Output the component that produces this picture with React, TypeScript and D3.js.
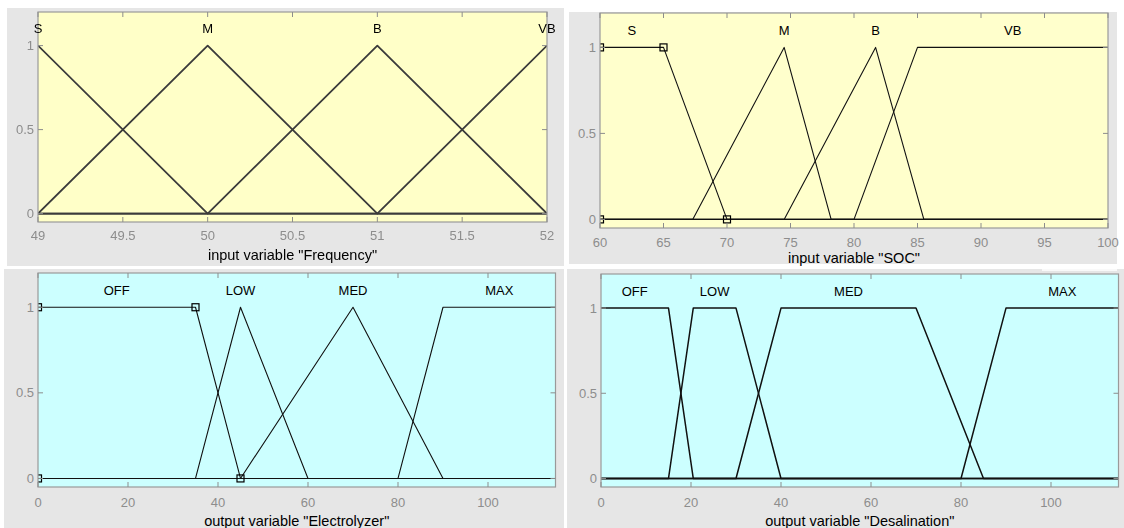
import React from "react";
import * as d3 from "d3";

// ---- Fuzzy variable definitions ----
const freqRange = [49, 52];
const freqTicks = [49, 49.5, 50, 50.5, 51, 51.5, 52];
const freqNames = ["S", "M", "B", "VB"];
const freqTypes = ["trimf", "trimf", "trimf", "trimf"];
const freqParams = [
  [48, 49, 50],
  [49, 50, 51],
  [50, 51, 52],
  [51, 52, 53],
];

const socRange = [60, 100];
const socTicks = [60, 65, 70, 75, 80, 85, 90, 95, 100];
const socNames = ["S", "M", "B", "VB"];
const socTypes = ["trapmf", "trimf", "trimf", "trapmf"];
const socParams = [
  [60, 60, 65, 70],
  [67.3, 74.5, 78.2],
  [74.5, 81.7, 85.5],
  [80, 85, 100, 100],
];

const elecRange = [0, 115];
const elecTicks = [0, 20, 40, 60, 80, 100];
const elecNames = ["OFF", "LOW", "MED", "MAX"];
const elecTypes = ["trapmf", "trimf", "trimf", "trapmf"];
const elecParams = [
  [0, 0, 35, 45],
  [35, 45, 60],
  [45, 70, 90],
  [80, 90, 115, 115],
];

const desalRange = [0, 115];
const desalTicks = [0, 20, 40, 60, 80, 100];
const desalNames = ["OFF", "LOW", "MED", "MAX"];
const desalTypes = ["trapmf", "trapmf", "trapmf", "trapmf"];
const desalParams = [
  [0, 0, 15, 20.5],
  [15, 20.5, 30, 40],
  [30, 40, 70, 85],
  [80, 90, 115, 115],
];

const degreeTicks = [0, 0.5, 1];
const degreeDomain = [-0.05, 1.2];

const FONT = "'Liberation Sans', Arial, Helvetica, sans-serif";

function corners(type: string, p: number[]) {
  return type === "trimf" ? [p[0], p[1], p[1], p[2]] : p;
}

function membership(type: string, p: number[], x: number) {
  const [a, b, c, d] = corners(type, p);
  if (x < a || x > d) return 0;
  if (x < b) return (x - a) / (b - a);
  if (x <= c) return 1;
  return d > c ? (d - x) / (d - c) : 1;
}

type PanelProps = {
  id: string;
  bg: number[]; // x, y, w, h of the grey figure area
  plot: number[]; // x, y, w, h of the axes
  domain: number[];
  ticks: number[];
  names: string[];
  types: string[];
  params: number[][];
  fill: string;
  title: string;
  selected: number;
  stroke: string;
  strokeWidth: number;
  tickLabelY: number;
  titleY: number;
  soft?: boolean;
};

function Panel(props: PanelProps) {
  const {
    id, bg, plot, domain, ticks, names, types, params, fill, title,
    selected, stroke, strokeWidth, tickLabelY, titleY, soft,
  } = props;
  const [px, py, pw, ph] = plot;
  const x = d3.scaleLinear().domain(domain).range([px, px + pw]);
  const y = d3.scaleLinear().domain(degreeDomain).range([py + ph, py]);
  const line = d3
    .line<number[]>()
    .x((d) => x(d[0]))
    .y((d) => y(d[1]));

  // each membership function is drawn across the whole universe of discourse
  const curves = params.map((p, i) => {
    const [lo, hi] = domain;
    const xs = Array.from(
      new Set([lo, hi, ...p.filter((v) => v > lo && v < hi)])
    ).sort((a, b) => a - b);
    return xs.map((v) => [v, membership(types[i], p, v)]);
  });

  // names sit over the middle of each plateau
  const labelX = params.map((p, i) => {
    const [, b, c] = corners(types[i], p);
    const l = Math.max(b, domain[0]);
    const r = Math.min(c, domain[1]);
    return (l + r) / 2;
  });

  const selPts =
    selected >= 0
      ? (() => {
          const c = corners(types[selected], params[selected]);
          return [
            [c[0], 0],
            [c[1], 1],
            [c[2], 1],
            [c[3], 0],
          ];
        })()
      : [];

  const tickColor = "#8d8d8d";
  const clipId = `clip-${id}`;
  const blurId = `blur-${id}`;
  const titleX = px + pw / 2;

  return (
    <g>
      <defs>
        <clipPath id={clipId}>
          <rect x={px} y={py} width={pw} height={ph} />
        </clipPath>
        {soft && (
          <filter id={blurId} x="-5%" y="-5%" width="110%" height="110%">
            <feGaussianBlur stdDeviation={0.5} />
          </filter>
        )}
      </defs>
      <rect x={bg[0]} y={bg[1]} width={bg[2]} height={bg[3]} fill="#e6e6e6" />
      <g filter={soft ? `url(#${blurId})` : undefined}>
        <rect x={px} y={py} width={pw} height={ph} fill={fill} />
        <g clipPath={`url(#${clipId})`}>
          {curves.map((c, i) => (
            <path
              key={i}
              d={line(c) || ""}
              fill="none"
              stroke={stroke}
              strokeWidth={strokeWidth}
              strokeLinejoin="round"
            />
          ))}
          {selPts.map((d, i) => (
            <rect
              key={i}
              x={x(d[0]) - 3.5}
              y={y(d[1]) - 3.5}
              width={7}
              height={7}
              fill="none"
              stroke="#000"
              strokeWidth={1.2}
            />
          ))}
        </g>
        <rect
          x={px}
          y={py}
          width={pw}
          height={ph}
          fill="none"
          stroke="#9a9a9a"
          strokeWidth={1.2}
        />
        {ticks.map((t) => (
          <g key={`xt${t}`}>
            <line x1={x(t)} x2={x(t)} y1={py + ph} y2={py + ph - 5} stroke={tickColor} />
            <line x1={x(t)} x2={x(t)} y1={py} y2={py + 5} stroke={tickColor} />
            <text
              x={x(t)}
              y={tickLabelY}
              textAnchor="middle"
              fontFamily={FONT}
              fontSize={13}
              fill={tickColor}
            >
              {String(t)}
            </text>
          </g>
        ))}
        {degreeTicks.map((t) => (
          <g key={`yt${t}`}>
            <line x1={px} x2={px + 5} y1={y(t)} y2={y(t)} stroke={tickColor} />
            <line x1={px + pw} x2={px + pw - 5} y1={y(t)} y2={y(t)} stroke={tickColor} />
            <text
              x={px - 4}
              y={y(t)}
              dy="0.35em"
              textAnchor="end"
              fontFamily={FONT}
              fontSize={13}
              fill={tickColor}
            >
              {String(t)}
            </text>
          </g>
        ))}
        {names.map((n, i) => (
          <text
            key={n}
            x={x(labelX[i])}
            y={y(1.1)}
            dy="0.35em"
            textAnchor="middle"
            fontFamily={FONT}
            fontSize={13}
            fill="#000"
          >
            {n}
          </text>
        ))}
        <text
          x={titleX}
          y={titleY}
          textAnchor="middle"
          fontFamily={FONT}
          fontSize={14.5}
          fill="#000"
        >
          {title}
        </text>
      </g>
    </g>
  );
}

export default function App() {
  return (
    <svg
      width={1124}
      height={528}
      style={{ position: "absolute", left: 0, top: 0, background: "#fff" }}
    >
      <Panel
        id="freq"
        bg={[7, 8, 557, 258]}
        plot={[38, 12, 509, 210]}
        domain={freqRange}
        ticks={freqTicks}
        names={freqNames}
        types={freqTypes}
        params={freqParams}
        fill="#ffffc8"
        title={'input variable "Frequency"'}
        selected={-1}
        stroke="#3a3a3a"
        strokeWidth={1.8}
        tickLabelY={240}
        titleY={260}
        soft
      />
      <Panel
        id="soc"
        bg={[569, 12, 548, 252]}
        plot={[600, 13, 508, 215]}
        domain={socRange}
        ticks={socTicks}
        names={socNames}
        types={socTypes}
        params={socParams}
        fill="#ffffcc"
        title={'input variable "SOC"'}
        selected={0}
        stroke="#111"
        strokeWidth={1.1}
        tickLabelY={247}
        titleY={263}
      />
      <Panel
        id="elec"
        bg={[4, 269, 560, 259]}
        plot={[38, 273, 517.5, 214]}
        domain={elecRange}
        ticks={elecTicks}
        names={elecNames}
        types={elecTypes}
        params={elecParams}
        fill="#ccffff"
        title={'output variable "Electrolyzer"'}
        selected={0}
        stroke="#111"
        strokeWidth={1.1}
        tickLabelY={507}
        titleY={526}
      />
      <Panel
        id="desal"
        bg={[567, 269, 557, 259]}
        plot={[601, 274, 517.5, 213]}
        domain={desalRange}
        ticks={desalTicks}
        names={desalNames}
        types={desalTypes}
        params={desalParams}
        fill="#ccffff"
        title={'output variable "Desalination"'}
        selected={-1}
        stroke="#111"
        strokeWidth={1.5}
        tickLabelY={507}
        titleY={526}
      />
      <line x1={1042} x2={1117} y1={270} y2={270} stroke="#fff" strokeWidth={1.5} />
      <line x1={482} x2={556} y1={268} y2={268} stroke="#fff" strokeWidth={1.5} />
    </svg>
  );
}
